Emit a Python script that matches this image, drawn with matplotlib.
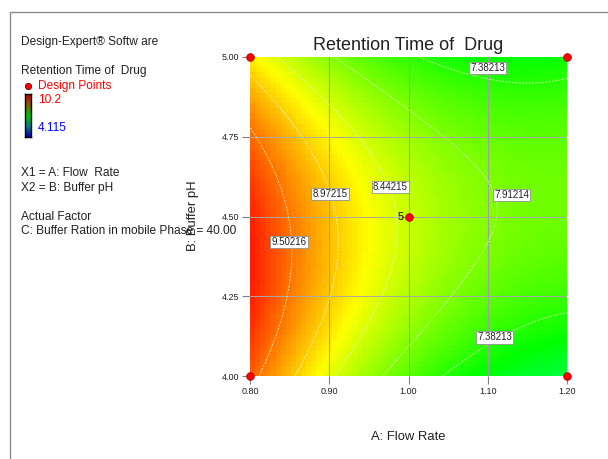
import numpy as np
import matplotlib
matplotlib.use('Agg')
import matplotlib.pyplot as plt
from matplotlib.colors import LinearSegmentedColormap
from matplotlib.lines import Line2D

plt.rcParams['font.family'] = ['Liberation Sans', 'DejaVu Sans']

# ---------------- data ----------------
flow_ticks = [0.80, 0.90, 1.00, 1.10, 1.20]
ph_ticks = [4.00, 4.25, 4.50, 4.75, 5.00]
# quadratic response-surface model in coded units (A, B in -1..1)
coef_terms = ['Intercept', 'A', 'B', 'AB', 'A^2', 'B^2']
coef_values = [8.354, -1.10, -0.1175, 0.33, 0.55, -0.807]
contour_levels = [7.38213, 7.91214, 8.44215, 8.97215, 9.50216]
contour_label_text = ['9.50216', '8.97215', '8.44215', '7.91214', '7.38213', '7.38213']
design_flow = [0.80, 0.80, 1.20, 1.20, 1.00]
design_ph = [4.00, 5.00, 4.00, 5.00, 4.50]
design_reps = [1, 1, 1, 1, 5]
resp_low, resp_high = 4.115, 10.2
title = 'Retention Time of  Drug'
side_texts = ['Design-Expert® Softw are', 'Retention Time of  Drug', 'Design Points',
              '10.2', '4.115', 'X1 = A: Flow  Rate', 'X2 = B: Buffer pH',
              'Actual Factor', 'C: Buffer Ration in mobile Phase = 40.00']
x_label = 'A: Flow Rate'
y_label = 'B: Buffer pH'

# ---------------- model ----------------
a_lo, a_hi = flow_ticks[0], flow_ticks[-1]
b_lo, b_hi = ph_ticks[0], ph_ticks[-1]


def predict(A, B):
    x = (A - (a_lo + a_hi) / 2) / ((a_hi - a_lo) / 2)
    y = (B - (b_lo + b_hi) / 2) / ((b_hi - b_lo) / 2)
    c = coef_values
    return c[0] + c[1] * x + c[2] * y + c[3] * x * y + c[4] * x * x + c[5] * y * y


W, H = 608, 459
fig = plt.figure(figsize=(W / 100, H / 100), dpi=100)


def fx(px):
    return px / W


def fy(py):
    return 1 - py / H


ax = fig.add_axes([fx(250), fy(376), (567 - 250) / W, (376 - 57) / H])

cmap = LinearSegmentedColormap.from_list(
    'de', ['#0000ff', '#00ffff', '#00ff00', '#ffff00', '#ff0000'])

ncell = 62
ea = np.linspace(a_lo, a_hi, ncell + 1)
eb = np.linspace(b_lo, b_hi, ncell + 1)
ca = (ea[:-1] + ea[1:]) / 2
cb = (eb[:-1] + eb[1:]) / 2
CA, CB = np.meshgrid(ca, cb)
ax.pcolormesh(ea, eb, predict(CA, CB), cmap=cmap, vmin=resp_low, vmax=resp_high,
              shading='flat', zorder=1)

fa = np.linspace(a_lo, a_hi, 300)
fb = np.linspace(b_lo, b_hi, 300)
FA, FB = np.meshgrid(fa, fb)
cs = ax.contour(FA, FB, predict(FA, FB), levels=contour_levels,
                colors='#e4ffc8', linewidths=0.6, alpha=0.85,
                linestyles=[(0, (2.5, 1.5))], zorder=3)

for v in flow_ticks[1:-1]:
    ax.axvline(v, color='#a0a0a0', lw=0.8, zorder=2)
for v in ph_ticks[1:-1]:
    ax.axhline(v, color='#a8a8a8', lw=0.7, zorder=2)

ax.set_xlim(a_lo, a_hi)
ax.set_ylim(b_lo, b_hi)
ax.set_xticks(flow_ticks)
ax.set_yticks(ph_ticks)
ax.set_xticklabels([f'{v:.2f}' for v in flow_ticks])
ax.set_yticklabels([f'{v:.2f}' for v in ph_ticks])
ax.tick_params(length=6, width=0.8, color='#808080', labelsize=6.5, pad=2,
               labelcolor='#202020')
for s in ax.spines.values():
    s.set_visible(False)

# contour labels
label_pos = [(0.849, 4.42), (0.901, 4.57), (0.977, 4.593), (1.130, 4.567),
             (1.100, 4.965), (1.109, 4.121)]
for (a, b), t in zip(label_pos, contour_label_text):
    ax.text(a, b, t, ha='center', va='center', fontsize=7, color='#202020', zorder=6,
            bbox=dict(boxstyle='square,pad=0.12', fc='white', ec='#909090', lw=0.6))

# design points
ax.plot(design_flow, design_ph, 'o', mfc='#ff0000', mec='#b00000', mew=0.6, ms=5.5,
        clip_on=False, zorder=7)
for a, b, r in zip(design_flow, design_ph, design_reps):
    if r > 1:
        ax.annotate(str(r), (a, b), xytext=(-6, 0), textcoords='offset points',
                    ha='center', va='center', fontsize=8, color='black', zorder=7)

fig.text(fx(408), fy(45), title, ha='center', va='center', fontsize=13, color='#202020')
fig.text(fx(408), fy(437), x_label, ha='center', va='center', fontsize=9.4, color='#202020')
fig.text(fx(193), fy(216), y_label, ha='center', va='center', fontsize=9.4,
         rotation=90, color='#202020')

# side panel
tx = fx(21)
fig.text(tx, fy(42), side_texts[0], va='center', fontsize=8.6, color='#202020')
fig.text(tx, fy(71), side_texts[1], va='center', fontsize=8.6, color='#202020')
fig.add_artist(Line2D([fx(28)], [fy(86)], marker='o', mfc='#ff0000', mec='#600000',
                      mew=0.6, ms=4.5))
fig.text(fx(38), fy(86), side_texts[2], va='center', fontsize=8.6, color='#ff0000')
fig.text(fx(38), fy(100), side_texts[3], va='center', fontsize=8.6, color='#ff0000')
fig.text(fx(38), fy(128), side_texts[4], va='center', fontsize=8.6, color='#0000ff')
fig.text(tx, fy(173), side_texts[5], va='center', fontsize=8.6, color='#202020')
fig.text(tx, fy(188), side_texts[6], va='center', fontsize=8.6, color='#202020')
fig.text(tx, fy(217), side_texts[7], va='center', fontsize=8.6, color='#202020')
fig.text(tx, fy(231), side_texts[8], va='center', fontsize=8.6, color='#202020')

cax = fig.add_axes([fx(25), fy(137), 6 / W, 43 / H])
bar_cmap = LinearSegmentedColormap.from_list(
    'bar', ['#0000b0', '#008080', '#00c000', '#806000', '#c00000'])
cax.imshow(np.linspace(1, 0, 100).reshape(-1, 1), aspect='auto', cmap=bar_cmap)
cax.set_xticks([])
cax.set_yticks([])
for s in cax.spines.values():
    s.set_color('black')
    s.set_linewidth(1.0)

# frame lines
fig.add_artist(Line2D([fx(10), fx(10), 1.0], [0.0, fy(12), fy(12)],
                      color='#8c8c8c', lw=1.0))

fig.savefig('out.png', dpi=100)
